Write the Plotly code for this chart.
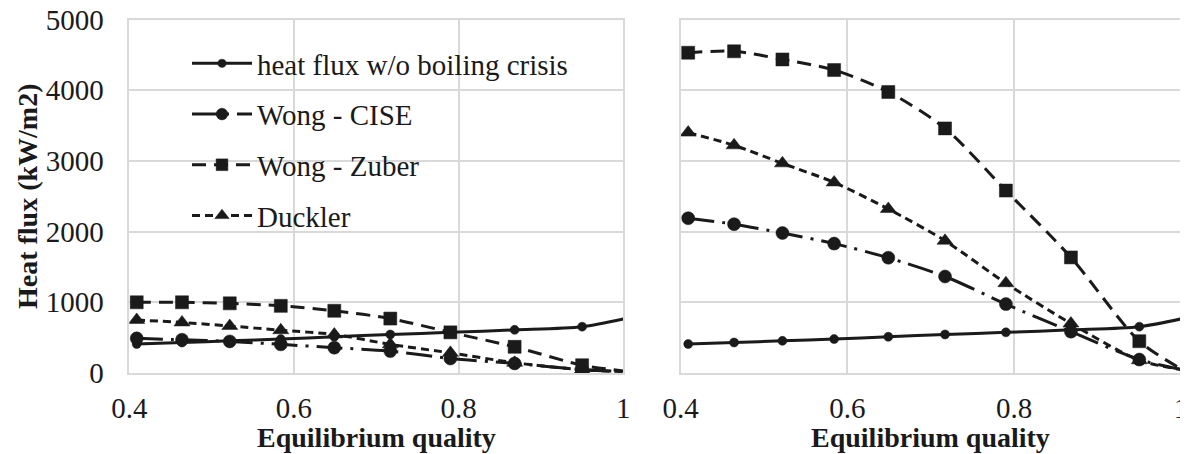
import plotly.graph_objects as go

# ---- data ----
quality = [0.409, 0.464, 0.522, 0.584, 0.649, 0.717, 0.790, 0.868, 0.950, 1.0]

heat_flux = [410, 432, 455, 480, 512, 545, 575, 610, 655, 765]

# left panel
cise_left = [490, 470, 447, 405, 358, 310, 205, 135, 50, 20]
zuber_left = [1000, 1000, 985, 950, 880, 770, 575, 370, 110, 30]
duckler_left = [750, 715, 665, 605, 545, 405, 285, 145, 45, 20]

# right panel
cise_right = [2190, 2105, 1980, 1830, 1630, 1365, 975, 585, 190, 50]
zuber_right = [4530, 4550, 4435, 4285, 3975, 3460, 2580, 1635, 450, 60]
duckler_right = [3400, 3220, 2965, 2695, 2320, 1870, 1270, 700, 180, 50]

names = ["heat flux w/o boiling crisis", "Wong - CISE", "Wong - Zuber", "Duckler"]
x_ticks = [0.4, 0.6, 0.8, 1.0]
x_ticklabels = ["0.4", "0.6", "0.8", "1"]
y_ticks = [0, 1000, 2000, 3000, 4000, 5000]
x_title = "Equilibrium quality"
y_title = "Heat flux (kW/m2)"

FONT = "Liberation Serif, Times New Roman, DejaVu Serif, serif"
INK = "#1a1a1a"
GRID = "#d9d9d9"

styles = [
    dict(dash="solid", symbol="circle", size=9),
    dict(dash="26px,8px,3px,8px", symbol="circle", size=13),
    dict(dash="14px,8px", symbol="square", size=13),
    dict(dash="8px,5px", symbol="triangle-up", size=14),
]

def sizes(s):
    return [s] * (len(quality) - 1) + [0]

fig = go.Figure()
left_sets = [heat_flux, cise_left, zuber_left, duckler_left]
right_sets = [heat_flux, cise_right, zuber_right, duckler_right]

def add(sets, xa, ya, show):
    for i, (nm, st) in enumerate(zip(names, styles)):
        fig.add_trace(go.Scatter(
            x=quality, y=sets[i], name=nm, mode="lines+markers",
            line=dict(color=INK, width=3, dash=st["dash"], shape="spline", smoothing=0.8),
            marker=dict(color=INK, symbol=st["symbol"], size=sizes(st["size"]),
                        opacity=1, line=dict(width=0.5, color=INK)),
            xaxis=xa, yaxis=ya, legendgroup=nm, showlegend=show))

add(left_sets, "x", "y", True)
add(right_sets, "x2", "y2", False)

# the page body has an 8px margin, so the figure is sized to fit the window
W, H = 1180, 446
OFF = 8
L1, R1 = 129.3 - OFF, 623.3 - OFF
L2, R2 = 680.7 - OFF, 1181.0 - OFF
T, B = 19.5 - OFF, 373.0 - OFF

TICK = 29
TITLE = 28

xax = dict(range=[0.4, 1.0], tickvals=x_ticks, ticktext=x_ticklabels,
           showgrid=True, gridcolor=GRID, gridwidth=1.5, zeroline=False,
           showline=True, linecolor=GRID, linewidth=1.5, mirror=True,
           ticks="outside", ticklen=8, tickcolor="rgba(0,0,0,0)",
           ticklabeloverflow="allow",
           tickfont=dict(family=FONT, size=TICK, color=INK), automargin=False)
yax = dict(range=[0, 5000], tickvals=y_ticks,
           showgrid=True, gridcolor=GRID, gridwidth=1.5, zeroline=False,
           showline=True, linecolor=GRID, linewidth=1.5, mirror=True,
           ticks="outside", ticklen=18, tickcolor="rgba(0,0,0,0)",
           ticklabeloverflow="allow",
           tickfont=dict(family=FONT, size=TICK, color=INK), automargin=False)

annotations = []
for (l, r) in [(L1, R1), (L2, R2)]:
    annotations.append(dict(text="<b>" + x_title + "</b>", xref="paper", yref="paper",
                            x=(l + r) / 2 / W, y=1 - 429 / H, xanchor="center", yanchor="middle",
                            showarrow=False, font=dict(family=FONT, size=TITLE, color=INK)))

fig.update_layout(
    width=W, height=H,
    margin=dict(l=0, r=0, t=0, b=0),
    paper_bgcolor="white", plot_bgcolor="white",
    font=dict(family=FONT, size=TICK, color=INK),
    xaxis=dict(xax, domain=[L1 / W, R1 / W], anchor="y"),
    xaxis2=dict(xax, domain=[L2 / W, R2 / W], anchor="y2"),
    yaxis=dict(yax, domain=[1 - B / H, 1 - T / H], anchor="x",
               title=dict(text="<b>" + y_title + "</b>", font=dict(family=FONT, size=TITLE, color=INK), standoff=0)),
    yaxis2=dict(yax, domain=[1 - B / H, 1 - T / H], anchor="x2", showticklabels=False),
    annotations=annotations,
    showlegend=True,
    legend=dict(x=179 / W, y=1 - 30 / H, xanchor="left", yanchor="top",
                bgcolor="rgba(255,255,255,0)", font=dict(family=FONT, size=TICK, color=INK),
                tracegroupgap=10, itemwidth=60),
)

fig.write_html("out.html")
